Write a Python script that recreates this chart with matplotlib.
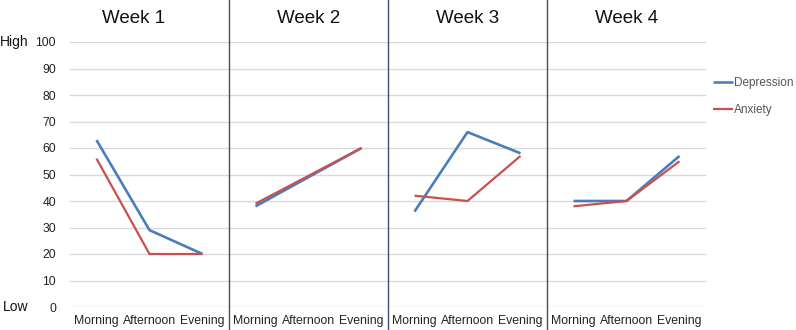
import numpy as np
import matplotlib.pyplot as plt

plt.rcParams['font.family'] = ['Liberation Sans', 'DejaVu Sans']

weeks = ['Week 1', 'Week 2', 'Week 3', 'Week 4']
times = ['Morning', 'Afternoon', 'Evening']
depression = [[63, 29, 20], [38, 49, 60], [36, 66, 58], [40, 40, 57]]
anxiety = [[56, 20, 20], [39, 49.5, 60], [42, 40, 57], [38, 40, 55]]

blue = '#4a7ebb'
red = '#c9504d'

fig = plt.figure(figsize=(7.96, 3.30), dpi=100)
ax = fig.add_axes([70 / 796, 23 / 330, 636 / 796, 265 / 330])

for w in range(len(weeks)):
    x = np.arange(3) + 3 * w
    ld, = ax.plot(x, depression[w], color=blue, lw=1.9, solid_capstyle='butt', zorder=3)
    la, = ax.plot(x, anxiety[w], color=red, lw=1.6, solid_capstyle='butt', zorder=3)
    if w == 0:
        ld.set_label('Depression')
        la.set_label('Anxiety')

# week separators, running the full height of the image
for s in [2.5, 5.5, 8.5]:
    ax.plot([s, s], [-9, 116.5], color='#3d5068', lw=1.0, clip_on=False, zorder=4)

ax.set_xlim(-0.5, 11.5)
ax.set_ylim(0, 100)
ax.set_yticks(range(0, 101, 10))
ax.set_xticks(range(12))
ax.set_xticklabels(times * 4)
ax.tick_params(length=0, labelsize=8.8, colors='#222222')
ax.tick_params(axis='y', pad=10)
ax.tick_params(axis='x', pad=6)
ax.grid(axis='y', color='#d9d9d9', lw=1.0)
ax.set_axisbelow(True)
for sp in ax.spines.values():
    sp.set_visible(False)

title_x = [0.7, 4, 7, 10]
for w, name in enumerate(weeks):
    ax.text(title_x[w], 109, name, ha='center', va='center', fontsize=13.5, color='#111111')

ax.text(-1.28, 100, 'High', ha='right', va='center', fontsize=10, color='#111111')
ax.text(-1.28, 0, 'Low', ha='right', va='center', fontsize=10, color='#111111')

leg = ax.legend(loc='upper left', bbox_to_anchor=(1.0, 0.895), frameon=False,
                fontsize=8.5, handlelength=1.7, handletextpad=0.1, labelspacing=1.25,
                borderaxespad=0.2)
for t in leg.get_texts():
    t.set_color('#555555')

fig.savefig('out.png', dpi=100)
